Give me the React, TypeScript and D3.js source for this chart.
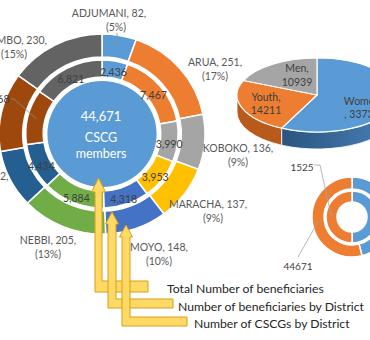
import React from "react";
import * as d3 from "d3";

// ---------- data ----------
const districts = ["ADJUMANI", "ARUA", "KOBOKO", "MARACHA", "MOYO", "NEBBI", "PAKWACH", "YUMBE", "ZOMBO"];
const cscgByDistrict = [82, 251, 136, 137, 148, 205, 142, 194, 230];
const cscgShare = ["5%", "17%", "9%", "9%", "10%", "13%", "9%", "13%", "15%"];
const beneficiariesByDistrict = [2436, 7467, 3990, 3953, 4318, 5884, 4434, 5368, 6821];
const totalBeneficiaries = 44671;
const centreCaption = ["CSCG", "members"];
const groupNames = ["Women", "Youth", "Men"];
const groupValues = [33732, 14211, 10939];
const summaryOuterValues = [38000, 44671];
const summaryInnerValues = [1525, 1525];
const arrowCaptions = ["Total Number of beneficiaries", "Number of beneficiaries by District", "Number of CSCGs by District"];

// ---------- styles ----------
const districtColors = ["#5B9BD5", "#ED7D31", "#A5A5A5", "#FFC000", "#4472C4", "#70AD47", "#255E91", "#9E480E", "#636363"];
const groupColors = ["#5B9BD5", "#ED7D31", "#A5A5A5"];
const groupSideColors = ["#3B6E9E", "#B85A1C", "#7F7F7F"];
const FONT = "Lato, 'Open Sans', sans-serif";
const LABEL = "#595959";

// label layout (manually placed as in the source)
const outerLabelLayout = [
  { x: 109, y: 13, x2: 116, anchor: "middle" },
  { x: 215, y: 62, anchor: "middle" },
  { x: 238, y: 148, anchor: "middle" },
  { x: 208, y: 204, x2: 213, anchor: "middle" },
  { x: 159, y: 247, anchor: "middle" },
  { x: 48, y: 240, anchor: "middle" },
  { x: 8.5, y: 176, x2: -20, anchor: "end" },
  { x: -30, y: 110, x2: -45, anchor: "end" },
  { x: 47, y: 40, x2: 14, anchor: "end" },
];

const arrowsLayout = [
  { x: 95, w: 7, tip: 178, headBase: 192, half: 7, bottom: 292, barTop: 281, right: 148, tx: 167, ty: 288 },
  { x: 108, w: 8, tip: 212, headBase: 224, half: 6.5, bottom: 308, barTop: 299, right: 173, tx: 178, ty: 306 },
  { x: 122, w: 8, tip: 225, headBase: 237, half: 6.5, bottom: 326, barTop: 317, right: 187, tx: 194, ty: 323 },
];

export default function App() {
  // ---------- main doughnut ----------
  const C = { x: 102, y: 134 };
  const sx = 1.03;
  const pie = d3.pie<number>().sort(null).value((d) => d);
  const outerArcs = pie(cscgByDistrict);
  const midArcs = pie(beneficiariesByDistrict);
  const outerArc = d3.arc<d3.PieArcDatum<number>>().innerRadius(77).outerRadius(100);
  const midArc = d3.arc<d3.PieArcDatum<number>>().innerRadius(57).outerRadius(74);
  const place = (p: [number, number]) => [C.x + p[0] * sx, C.y + p[1]];
  const fmt = d3.format(",");

  // ---------- 3D pie ----------
  const P = { x: 317, y: 95, rx: 80, ry: 37, depth: 17 };
  const gArcs = pie(groupValues);
  const ept = (t: number, dy = 0) => [P.x + P.rx * Math.sin(t), P.y - P.ry * Math.cos(t) + dy];
  const topPath = (a0: number, a1: number) => {
    const p0 = ept(a0), p1 = ept(a1);
    return `M${P.x},${P.y}L${p0[0]},${p0[1]}A${P.rx},${P.ry} 0 ${a1 - a0 > Math.PI ? 1 : 0} 1 ${p1[0]},${p1[1]}Z`;
  };
  const sidePath = (a0: number, a1: number) => {
    const s0 = Math.max(a0, Math.PI / 2), s1 = Math.min(a1, (3 * Math.PI) / 2);
    if (s1 <= s0) return null;
    const p0 = ept(s0), p1 = ept(s1), q1 = ept(s1, P.depth), q0 = ept(s0, P.depth);
    const lg = s1 - s0 > Math.PI ? 1 : 0;
    return `M${p0[0]},${p0[1]}A${P.rx},${P.ry} 0 ${lg} 1 ${p1[0]},${p1[1]}L${q1[0]},${q1[1]}A${P.rx},${P.ry} 0 ${lg} 0 ${q0[0]},${q0[1]}Z`;
  };

  // ---------- small doughnut ----------
  const S = { x: 352, y: 217 };
  const sOuter = pie(summaryOuterValues);
  const sInner = pie(summaryInnerValues);
  const sOuterArc = d3.arc<d3.PieArcDatum<number>>().innerRadius(28).outerRadius(40);
  const sInnerArc = d3.arc<d3.PieArcDatum<number>>().innerRadius(15).outerRadius(26);
  const innerEnd = sInnerArc.centroid(sInner[1]);
  const outerEnd = sOuterArc.centroid(sOuter[1]);

  const yumbeEnd = place(midArc.centroid(midArcs[7]) as [number, number]);
  const adjEnd = place(outerArc.centroid(outerArcs[0]) as [number, number]);

  return (
    <svg width={370} height={340} style={{ position: "absolute", left: 0, top: 0, background: "#fff" }} fontFamily={FONT}>
      <defs>
        <linearGradient id="sideWomen" x1="0" x2="1" y1="0" y2="0">
          <stop offset="0" stopColor="#2A5580" />
          <stop offset="1" stopColor="#4A80B8" />
        </linearGradient>
      </defs>

      {/* main doughnut */}
      <g transform={`translate(${C.x},${C.y}) scale(${sx},1)`}>
        <circle r={53} fill="#5B9BD5" />
        {midArcs.map((a, i) => (
          <path key={"m" + i} d={midArc(a) || ""} fill={districtColors[i]} stroke="#fff" strokeWidth={1.5} />
        ))}
        {outerArcs.map((a, i) => (
          <path key={"o" + i} d={outerArc(a) || ""} fill={districtColors[i]} stroke="#fff" strokeWidth={1.5} />
        ))}
      </g>
      <text x={101} y={116} textAnchor="middle" dominantBaseline="central" fill="#fff" fontSize={13}>{fmt(totalBeneficiaries)}</text>
      <text x={101} y={137} textAnchor="middle" dominantBaseline="central" fill="#fff" fontSize={12.5}>{centreCaption[0]}</text>
      <text x={101} y={153} textAnchor="middle" dominantBaseline="central" fill="#fff" fontSize={12.5}>{centreCaption[1]}</text>

      {midArcs.map((a, i) => {
        if (i === 7) return null;
        const p = place(midArc.centroid(a) as [number, number]);
        return (
          <text key={"ml" + i} x={p[0]} y={p[1] + 3} textAnchor="middle" dominantBaseline="central" fill="#404040" fontSize={10.5}>
            {fmt(beneficiariesByDistrict[i])}
          </text>
        );
      })}
      {/* YUMBE label with leader */}
      <polyline points={`11,99 14,99 ${yumbeEnd[0]},${yumbeEnd[1]}`} fill="none" stroke="#8C8C8C" strokeWidth={0.8} />
      <text x={9.5} y={99} textAnchor="end" dominantBaseline="central" fill="#404040" fontSize={10.5}>{fmt(beneficiariesByDistrict[7])}</text>
      {/* ADJUMANI leader */}
      <line x1={117} y1={33} x2={adjEnd[0]} y2={adjEnd[1]} stroke="#8C8C8C" strokeWidth={0.8} />

      {outerLabelLayout.map((l, i) => (
        <g key={"ol" + i} fill={LABEL} fontSize={10.5}>
          <text x={l.x} y={l.y} textAnchor={l.anchor as any} dominantBaseline="central">{`${districts[i]}, ${cscgByDistrict[i]},`}</text>
          <text x={l.x2 ?? l.x} y={l.y + 14} textAnchor={l.x2 !== undefined ? "middle" : (l.anchor as any)} dominantBaseline="central">{`(${cscgShare[i]})`}</text>
        </g>
      ))}

      {/* 3D pie */}
      {gArcs.map((a, i) => {
        const d = sidePath(a.startAngle, a.endAngle);
        return d ? <path key={"s" + i} d={d} fill={i === 0 ? "url(#sideWomen)" : groupSideColors[i]} stroke="#fff" strokeWidth={0.8} /> : null;
      })}
      {gArcs.map((a, i) => (
        <path key={"t" + i} d={topPath(a.startAngle, a.endAngle)} fill={groupColors[i]} stroke="#fff" strokeWidth={1.2} />
      ))}
      <g fill="#404040" fontSize={10.5} textAnchor="middle" dominantBaseline="central">
        <text x={297} y={68}>{groupNames[2]},</text>
        <text x={297} y={82}>{groupValues[2]}</text>
        <text x={266} y={97}>{groupNames[1]},</text>
        <text x={266} y={110}>{groupValues[1]}</text>
        <text x={362} y={101}>{groupNames[0]}</text>
        <text x={362} y={114}>, {groupValues[0]}</text>
      </g>

      {/* small doughnut */}
      <g transform={`translate(${S.x},${S.y})`}>
        {sOuter.map((a, i) => (
          <path key={"so" + i} d={sOuterArc(a) || ""} fill={i === 0 ? "#5B9BD5" : "#ED7D31"} stroke="#fff" strokeWidth={1.5} />
        ))}
        {sInner.map((a, i) => (
          <path key={"si" + i} d={sInnerArc(a) || ""} fill={i === 0 ? "#5B9BD5" : "#ED7D31"} stroke="#fff" strokeWidth={1.5} />
        ))}
      </g>
      <polyline points={`314,165 320,165 ${S.x + innerEnd[0]},${S.y + innerEnd[1]}`} fill="none" stroke="#A6A6A6" strokeWidth={0.8} />
      <line x1={298} y1={257} x2={S.x + outerEnd[0]} y2={S.y + outerEnd[1]} stroke="#A6A6A6" strokeWidth={0.8} />
      <text x={302} y={167} textAnchor="middle" dominantBaseline="central" fill="#404040" fontSize={10}>{summaryInnerValues[1]}</text>
      <text x={298} y={266} textAnchor="middle" dominantBaseline="central" fill="#404040" fontSize={10}>{summaryOuterValues[1]}</text>

      {/* arrows */}
      {arrowsLayout.map((a, i) => {
        const cx = a.x + a.w / 2;
        const d = `M${a.x},${a.bottom}L${a.right},${a.bottom}L${a.right},${a.barTop}L${a.x + a.w},${a.barTop}L${a.x + a.w},${a.headBase}L${cx + a.half},${a.headBase}L${cx},${a.tip}L${cx - a.half},${a.headBase}L${a.x},${a.headBase}Z`;
        return <path key={"a" + i} d={d} fill="#FFD966" stroke="#D4A017" strokeWidth={1} />;
      })}
      {arrowsLayout.map((a, i) => (
        <text key={"at" + i} x={a.tx} y={a.ty} dominantBaseline="central" fill="#262626" fontSize={12.2}>{arrowCaptions[i]}</text>
      ))}
    </svg>
  );
}
